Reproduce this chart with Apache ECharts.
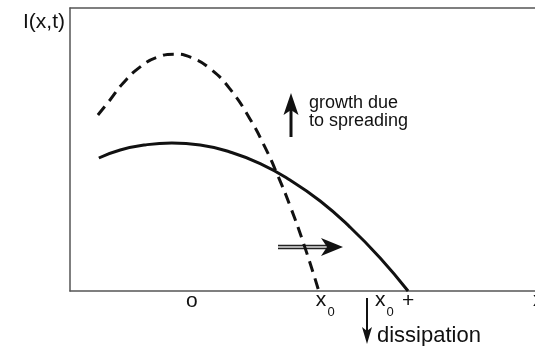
<!DOCTYPE html>
<html>
<head>
<meta charset="utf-8">
<script src="https://cdn.jsdelivr.net/npm/echarts@6/dist/echarts.min.js"></script>
<style>
  html, body { margin: 0; padding: 0; background: #fff; }
  #chart { width: 535px; height: 346px; }
</style>
</head>
<body>
<div id="chart"></div>
<script>
// Profiles of I(x,t): the earlier, narrow peak (dashed) and the later, spread profile (solid)
const earlyX = [0.60, 0.86, 1.14, 1.51, 1.88, 2.24, 2.62, 3.01, 3.44, 3.87, 4.19, 4.45, 4.73, 5.05, 5.35];
const earlyY = [6.22, 6.75, 7.34, 7.92, 8.26, 8.37, 8.24, 7.86, 7.14, 6.08, 5.09, 4.15, 3.02, 1.55, 0.00];
const laterX = [0.62, 1.08, 1.61, 2.19, 2.80, 3.44, 4.09, 4.73, 5.38, 6.02, 6.67, 7.27];
const laterY = [4.70, 4.98, 5.16, 5.23, 5.16, 4.91, 4.50, 3.92, 3.18, 2.26, 1.17, 0.00];

// Labels set under the x axis (position in axis units)
const axisMarks = [
  { x: 2.62, text: 'o' },
  { x: 5.40, text: 'x', sub: '0' },
  { x: 6.67, text: 'x', sub: '0' },
  { x: 7.27, text: '+' }
];

const FONT = '"Liberation Sans", Arial, Helvetica, sans-serif';
const zip = (xs, ys) => xs.map((v, i) => [v, ys[i]]);

const chart = echarts.init(document.getElementById('chart'), null, { renderer: 'canvas' });

const frameLine = { show: true, lineStyle: { color: '#555', width: 1.5 } };

chart.setOption({
  animation: false,
  backgroundColor: '#fff',
  grid: { left: 70, right: 0, top: 8, bottom: 55 },
  xAxis: [
    { type: 'value', min: 0, max: 10, position: 'bottom',
      axisLine: frameLine, axisTick: { show: false }, axisLabel: { show: false }, splitLine: { show: false } },
    { type: 'value', min: 0, max: 10, position: 'top',
      axisLine: frameLine, axisTick: { show: false }, axisLabel: { show: false }, splitLine: { show: false } }
  ],
  yAxis: [
    { type: 'value', min: 0, max: 10,
      axisLine: frameLine, axisTick: { show: false }, axisLabel: { show: false }, splitLine: { show: false } }
  ],
  series: [
    { type: 'line', data: zip(earlyX, earlyY), smooth: true, symbol: 'none',
      lineStyle: { color: '#111', width: 3, type: [11, 7], cap: 'butt' } },
    { type: 'line', data: zip(laterX, laterY), smooth: true, symbol: 'none',
      lineStyle: { color: '#111', width: 3 } }
  ]
});

// Text and arrows drawn on top of the plot
const g = [];
const txt = (x, y, s, size, align) => g.push({
  type: 'text', x: x, y: y,
  style: { text: s, font: size + 'px ' + FONT, fill: '#111', align: align || 'center', verticalAlign: 'middle' }
});

txt(65, 22, 'I(x,t)', 21, 'right');

axisMarks.forEach(m => {
  const px = chart.convertToPixel({ xAxisIndex: 0 }, m.x);
  if (m.sub) {
    txt(px, 300, m.text, 21, 'center');
    txt(px + 10, 312.5, m.sub, 13, 'center');
  } else {
    txt(px, 301, m.text, 21, 'center');
  }
});

// axis name, mostly beyond the right edge
txt(533, 300, 'x', 21, 'left');

txt(309, 103, 'growth due', 18, 'left');
txt(309, 121, 'to spreading', 18, 'left');
txt(377, 335.5, 'dissipation', 22, 'left');

// upward arrow
g.push({ type: 'line', shape: { x1: 291, y1: 108, x2: 291, y2: 137 }, style: { stroke: '#111', lineWidth: 3 } });
g.push({ type: 'polygon', shape: { points: [[291, 93], [298.5, 115], [291, 110], [283.5, 115]] }, style: { fill: '#111' } });

// downward arrow
g.push({ type: 'line', shape: { x1: 367, y1: 298, x2: 367, y2: 332 }, style: { stroke: '#111', lineWidth: 2 } });
g.push({ type: 'polygon', shape: { points: [[367, 344], [372, 327], [367, 331], [362, 327]] }, style: { fill: '#111' } });

// double-shafted arrow pointing right
g.push({ type: 'line', shape: { x1: 278, y1: 245.5, x2: 327, y2: 245.5 }, style: { stroke: '#222', lineWidth: 1.3 } });
g.push({ type: 'line', shape: { x1: 278, y1: 248.5, x2: 327, y2: 248.5 }, style: { stroke: '#222', lineWidth: 1.3 } });
g.push({ type: 'line', shape: { x1: 278, y1: 247, x2: 327, y2: 247 }, style: { stroke: '#999', lineWidth: 1.2 } });
g.push({ type: 'polygon', shape: { points: [[343, 247], [321, 238], [327, 247], [321, 256]] }, style: { fill: '#111' } });

chart.setOption({ graphic: { elements: g } });
</script>
</body>
</html>
